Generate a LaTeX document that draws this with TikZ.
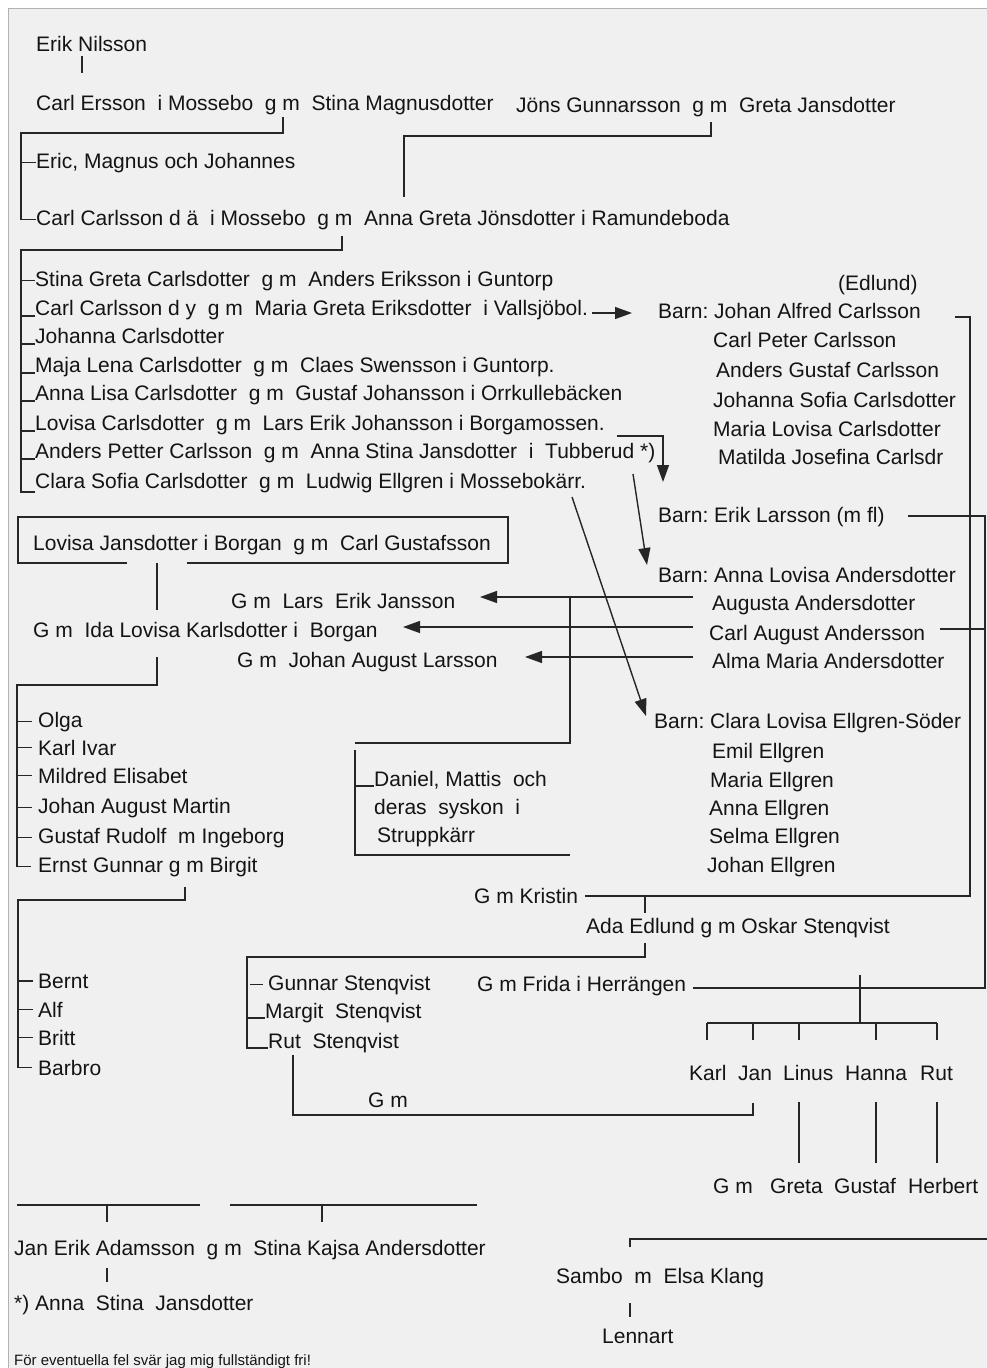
\documentclass[tikz,border=0pt]{standalone}
\usepackage{fontspec}
\setmainfont{Liberation Sans}
\usetikzlibrary{arrows.meta,positioning,calc}
\frenchspacing

\begin{document}
\begin{tikzpicture}[x=1pt, y=-1pt,
  txt/.style={anchor=base west, inner sep=0pt, text=black!92, font=\fontsize{21}{25}\selectfont},
  note/.style={txt, font=\fontsize{15}{18}\selectfont},
  ln/.style={line width=1.4pt, draw=black!85},
  arr/.style={ln, -{Triangle[length=17pt,width=12pt]}}
]

% page and frame
\useasboundingbox (0,0) rectangle (987,1368);
\fill[white] (0,0) rectangle (987,1368);
\filldraw[fill=black!6, draw=black!30, line width=0.8pt] (8,8) rectangle (995,1375);

% oldest generations
\node[txt] (erik) at (36,51) {Erik Nilsson};
\node[txt] (carlE) at (36,110) {Carl Ersson~ i Mossebo~ g m~ Stina Magnusdotter};
\node[txt] (jons) at (516,112) {Jöns Gunnarsson~ g m~ Greta Jansdotter};
\node[txt] (eric) at (36,168) {Eric, Magnus och Johannes};
\node[txt] (carlC) at (36,225) {Carl Carlsson d ä~ i Mossebo~ g m~ Anna Greta Jönsdotter i Ramundeboda};

\coordinate (erikT) at (82,56);
\draw[ln] (erikT) -- ++(0,17);
\coordinate (gmE) at (283,117);
\coordinate (famE) at (21,133);
\draw[ln] (gmE) |- (famE) |- (carlC.west);
\draw[ln] (famE |- eric.west) -- (eric.west);
\coordinate (gmJ) at (711,122);
\coordinate (jonsL) at (404,136);
\draw[ln] (gmJ) |- (jonsL) -- ++(0,61);

% children of Carl Carlsson
\node[txt] (stina) at (35,286) {Stina Greta Carlsdotter~ g m~ Anders Eriksson i Guntorp};
\node[txt] (carlD) at (35,315) {Carl Carlsson d y~ g m~ Maria Greta Eriksdotter~ i Vallsjöbol.};
\node[txt] (johanna) at (35,343) {Johanna Carlsdotter};
\node[txt] (maja) at (35,372) {Maja Lena Carlsdotter~ g m~ Claes Swensson i Guntorp.};
\node[txt] (annaL) at (35,400) {Anna Lisa Carlsdotter~ g m~ Gustaf Johansson i Orrkullebäcken};
\node[txt] (lovisaC) at (35,430) {Lovisa Carlsdotter~ g m~ Lars Erik Johansson i Borgamossen.};
\node[txt] (anders) at (35,458) {Anders Petter Carlsson~ g m~ Anna Stina Jansdotter~ i~ Tubberud *)};
\node[txt] (clara) at (35,488) {Clara Sofia Carlsdotter~ g m~ Ludwig Ellgren i Mossebokärr.};

\coordinate (gmC) at (342,236);
\coordinate (famC) at (21,250);
\draw[ln] (gmC) |- (famC) |- ([yshift=-4pt]clara.base west);
\draw[ln] (famC |- stina.west) -- (stina.west);
\foreach \n in {carlD,johanna,maja,annaL,lovisaC,anders}
  \draw[ln] ([yshift=-1pt]famC |- \n.base) -- ([yshift=-1pt]\n.base west);

% grandchildren, right column
\node[txt] (edlund) at (838,290) {(Edlund)};
\node[txt] (bJohan) at (658,318) {Barn: Johan Alfred Carlsson};
\node[txt] (carlP) at (713,347) {Carl Peter Carlsson};
\node[txt] (andersG) at (716,377) {Anders Gustaf Carlsson};
\node[txt] (johannaS) at (713,407) {Johanna Sofia Carlsdotter};
\node[txt] (mariaL) at (713,436) {Maria Lovisa Carlsdotter};
\node[txt] (matilda) at (718,464) {Matilda Josefina Carlsdr};
\node[txt] (bErik) at (658,522) {Barn: Erik Larsson (m fl)};
\node[txt] (bAnna) at (658,582) {Barn: Anna Lovisa Andersdotter};
\node[txt] (augusta) at (712,610) {Augusta Andersdotter};
\node[txt] (carlA) at (709,640) {Carl August Andersson};
\node[txt] (alma) at (712,668) {Alma Maria Andersdotter};
\node[txt] (bClara) at (654,728) {Barn: Clara Lovisa Ellgren-Söder};
\node[txt] (emil) at (712,758) {Emil Ellgren};
\node[txt] (mariaE) at (710,787) {Maria Ellgren};
\node[txt] (annaE) at (709,815) {Anna Ellgren};
\node[txt] (selma) at (709,843) {Selma Ellgren};
\node[txt] (johanE) at (707,872) {Johan Ellgren};

\coordinate (tipB1) at (632,313);
\draw[arr] (carlD.base east |- tipB1) ++(4,0) -- (tipB1);
\coordinate (borgE) at (617,436);
\coordinate (tipB2) at (663,482);
\draw[arr] (borgE) -| (tipB2);
\coordinate (tubE) at (633,474);
\coordinate (tipB3) at (647,565);
\draw[arr] (tubE) -- (tipB3);
\coordinate (mossE) at (572,497);
\coordinate (tipB4) at (646,716);
\draw[arr] (mossE) -- (tipB4);

% Lovisa Jansdotter and her line
\node[txt] (lovisaJ) at (33,550) {Lovisa Jansdotter i Borgan~ g m~ Carl Gustafsson};
\node[txt] (larsE) at (231,608) {G m~ Lars~ Erik Jansson};
\node[txt] (ida) at (33,637) {G m~ Ida Lovisa Karlsdotter i~ Borgan};
\node[txt] (johanA) at (237,667) {G m~ Johan August Larsson};

\coordinate (boxNW) at (18,517);
\coordinate (boxSE) at (508,563);
\coordinate (boxGL) at (127,563);
\coordinate (boxGR) at (187,563);
\draw[ln] (boxGL) -| (boxNW) -| (boxSE) -- (boxGR);
\coordinate (lovT) at (157,563);
\draw[ln] (lovT) -- ++(0,47);

\coordinate (augE) at (693,597);
\coordinate (caW) at (693,627);
\coordinate (almaE) at (693,657);
\coordinate (tipG1) at (480,597);
\coordinate (tipG2) at (403,627);
\coordinate (tipG3) at (525,657);
\draw[arr] (augE) -- (tipG1);
\draw[arr] (caW) -- (tipG2);
\draw[arr] (almaE) -- (tipG3);

\node[txt] (olga) at (38,727) {Olga};
\node[txt] (karl) at (38,755) {Karl Ivar};
\node[txt] (mildred) at (38,783) {Mildred Elisabet};
\node[txt] (johanAM) at (38,813) {Johan August Martin};
\node[txt] (gustafR) at (38,843) {Gustaf Rudolf~ m Ingeborg};
\node[txt] (ernst) at (38,872) {Ernst Gunnar g m Birgit};

\coordinate (idaB) at (157,657);
\coordinate (famO) at (17,685);
\draw[ln] (idaB) |- (famO) |- ([xshift=-7pt]ernst.west);
\foreach \n in {olga,karl,mildred,johanAM,gustafR}
  \draw[ln] (famO |- \n.west) -- ([xshift=-6pt]\n.west);

% Daniel, Mattis
\node[txt] (daniel1) at (374,786) {Daniel, Mattis~ och};
\node[txt] (daniel2) at (374,814) {deras~ syskon~ i};
\node[txt] (daniel3) at (377,842) {Struppkärr};

\coordinate (danJ) at (570,597);
\coordinate (danL) at (355,743);
\coordinate (danB) at (355,855);
\draw[ln] (danJ) |- (danL);
\draw[ln] (danL) ++(0,7) -- (danB) -- ++(215,0);
\draw[ln] (danL |- daniel1.base) -- (daniel1.base west);

% Edlund and Stenqvist
\node[txt] (kristin) at (474,903) {G m Kristin};
\node[txt] (ada) at (586,933) {Ada Edlund g m Oskar Stenqvist};
\node[txt] (frida) at (477,991) {G m Frida i Herrängen};

\coordinate (jaE) at (955,317);
\coordinate (jaR) at (970,317);
\coordinate (kriE) at (585,896);
\draw[ln] (jaE) -- (jaR) |- (kriE);
\coordinate (adaT) at (645,896);
\draw[ln] (adaT) -- ++(0,17);
\coordinate (elE) at (908,516);
\coordinate (elR) at (985,516);
\coordinate (frE) at (693,988);
\draw[ln] (elE) -- (elR) |- (frE);
\coordinate (caE) at (940,629);
\draw[ln] (caE) -- (caE -| elR);

\node[txt] (bernt) at (38,988) {Bernt};
\node[txt] (alf) at (38,1017) {Alf};
\node[txt] (britt) at (38,1045) {Britt};
\node[txt] (barbro) at (38,1075) {Barbro};

\coordinate (gmG) at (185,887);
\coordinate (famB) at (18,900);
\draw[ln] (gmG) |- (famB) |- ([xshift=-6pt]barbro.west);
\foreach \n in {bernt,alf,britt}
  \draw[ln] (famB |- \n.west) -- ([xshift=-5pt]\n.west);

\node[txt] (gunnar) at (268,990) {Gunnar Stenqvist};
\node[txt] (margit) at (265,1018) {Margit~ Stenqvist};
\node[txt] (rutS) at (268,1048) {Rut~ Stenqvist};
\node[txt] (gmR) at (368,1107) {G m};

\coordinate (adaB) at (645,943);
\coordinate (famS) at (247,957);
\draw[ln] (adaB) |- (famS) |- (rutS.base west);
\draw[ln] ([xshift=3pt]famS |- gunnar.west) -- ([xshift=-5pt]gunnar.west);
\draw[ln] (famS |- margit.base) -- (margit.base west);

% Frida's children
\node[txt] (karlF) at (689,1080) {Karl};
\node[txt] (jan) at (738,1080) {Jan};
\node[txt] (linus) at (783,1080) {Linus};
\node[txt] (hanna) at (845,1080) {Hanna};
\node[txt] (rutF) at (920,1080) {Rut};
\node[txt] (gmK) at (713,1193) {G m};
\node[txt] (greta) at (770,1193) {Greta};
\node[txt] (gustaf) at (834,1193) {Gustaf};
\node[txt] (herbert) at (908,1193) {Herbert};

\coordinate (frT) at (860,975);
\coordinate (frB) at (860,1023);
\draw[ln] (frT) -- (frB);
\coordinate (kidL) at (707,1023);
\coordinate (kidR) at (937,1023);
\draw[ln] (kidL) -- (kidR);
\foreach \x in {707,753,799,876,937}
  \draw[ln] (\x,1023) -- ++(0,17);
\foreach \x in {799,876,937}
  \draw[ln] (\x,1102) -- ++(0,61);

\coordinate (rutT) at (293,1055);
\coordinate (janC) at (753,1115);
\coordinate (janT) at (753,1103);
\draw[ln] (rutT) |- (janC) -- (janT);

% Jan Erik Adamsson
\node[txt] (janE) at (14,1255) {Jan Erik Adamsson~ g m~ Stina Kajsa Andersdotter};
\node[txt] (annaS) at (14,1310) {*) Anna~ Stina~ Jansdotter};
\node[note] (felnote) at (14,1365) {För eventuella fel svär jag mig fullständigt fri!};

\coordinate (parL1) at (17,1205);
\coordinate (parL2) at (200,1205);
\coordinate (parR1) at (230,1205);
\coordinate (parR2) at (477,1205);
\draw[ln] (parL1) -- (parL2);
\draw[ln] (parR1) -- (parR2);
\draw[ln] (107,1205) -- ++(0,17);
\draw[ln] (322,1205) -- ++(0,17);
\draw[ln] (107,1268) -- ++(0,14);

% Sambo
\node[txt] (sambo) at (556,1283) {Sambo~ m~ Elsa Klang};
\node[txt] (lennart) at (602,1343) {Lennart};

\coordinate (samT) at (630,1247);
\coordinate (samR) at (987,1239);
\draw[ln] (samT) |- (samR);
\coordinate (samB) at (630,1303);
\draw[ln] (samB) -- ++(0,14);

\end{tikzpicture}
\end{document}
